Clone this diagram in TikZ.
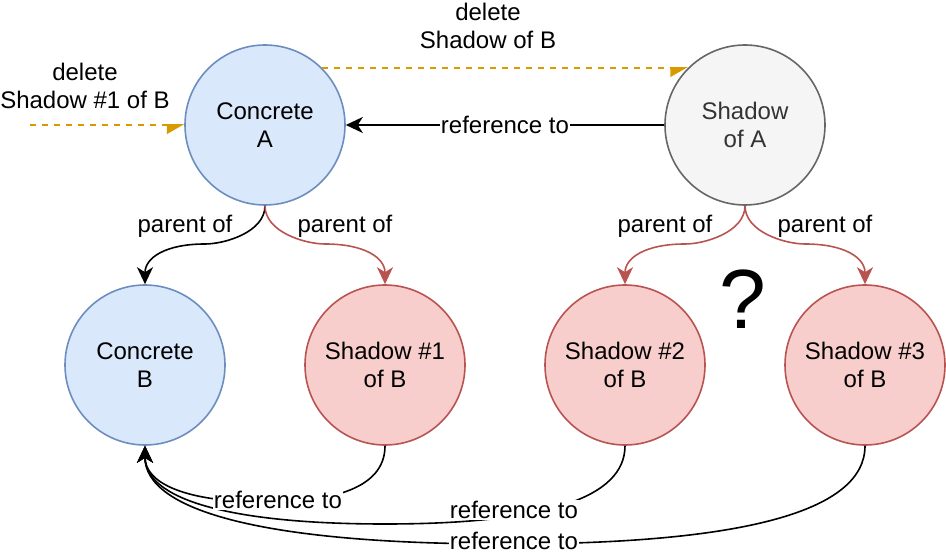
\documentclass[tikz,border=0pt]{standalone}
\usepackage{fontspec}
\setmainfont{Liberation Sans}
\usetikzlibrary{arrows.meta}

\definecolor{concfill}{HTML}{DAE8FC}
\definecolor{concline}{HTML}{6C8EBF}
\definecolor{shadfill}{HTML}{F8CECC}
\definecolor{shadline}{HTML}{B85450}
\definecolor{greyfill}{HTML}{F5F5F5}
\definecolor{greyline}{HTML}{666666}
\definecolor{greytext}{HTML}{333333}
\definecolor{delcol}{HTML}{D79B00}

\tikzset{
  concrete/.style={circle,draw=concline,fill=concfill,line width=1.6pt,minimum size=160pt,inner sep=0pt,align=center},
  shadowB/.style={circle,draw=shadline,fill=shadfill,line width=1.6pt,minimum size=160pt,inner sep=0pt,align=center},
  shadowA/.style={circle,draw=greyline,fill=greyfill,text=greytext,line width=1.6pt,minimum size=160pt,inner sep=0pt,align=center},
  lbl/.style={fill=white,inner sep=1pt},
  reftip/.style={-{Stealth[length=17pt,width=16pt,inset=5pt]}},
  refline/.style={line width=1.6pt,reftip},
  parline/.style={line width=1.6pt,reftip},
  delline/.style={delcol,line width=1.6pt,dash pattern=on 6pt off 6pt,-{Triangle[harpoon,swap,length=16pt,width=18pt]}}
}

\begin{document}
\begin{tikzpicture}[x=1pt,y=-1pt,font=\fontsize{24}{28}\selectfont]
\useasboundingbox (0,0) rectangle (946,556);
% circles
\node[concrete] (cA) at (265,125) {Concrete\\A};
\node[shadowA] (sA) at (745,125) {Shadow\\of A};
\node[concrete] (cB) at (145,365) {Concrete\\B};
\node[shadowB] (s1) at (385,365) {Shadow \#1\\of B};
\node[shadowB] (s2) at (625,365) {Shadow \#2\\of B};
\node[shadowB] (s3) at (865,365) {Shadow \#3\\of B};
\node (qm) at (743,299) {\fontsize{84}{84}\selectfont ?};
% delete arrows
\coordinate (dstart) at (30,125);
\draw[delline] (dstart) -- (cA);
\node[align=center] (del1) at (85,86) {delete\\Shadow \#1 of B};
\draw[delline] (cA.45) -- (sA.135);
\node[align=center] (del2) at (488,26) {delete\\Shadow of B};
% reference to
\draw[refline] (sA) -- node[lbl] (refA) {reference to} (cA);
% parent of
\draw[parline] (cA.south) .. controls (265,232) and (225,244) .. (205,244)
  .. controls (165,244) and (145,258) .. (cB.north);
\draw[parline,shadline] (cA.south) .. controls (265,232) and (305,244) .. (325,244)
  .. controls (365,244) and (385,258) .. (s1.north);
\draw[parline,shadline] (sA.south) .. controls (745,232) and (705,244) .. (685,244)
  .. controls (645,244) and (625,258) .. (s2.north);
\draw[parline,shadline] (sA.south) .. controls (745,232) and (785,244) .. (805,244)
  .. controls (845,244) and (865,258) .. (s3.north);
\node (par1) at (185,226) {parent of};
\node (par2) at (345,226) {parent of};
\node (par3) at (665,226) {parent of};
\node (par4) at (825,226) {parent of};
% references back to B
\draw[refline] (s1.south) .. controls (385,483) and (345,502) .. (265,502)
  .. controls (185,502) and (145,483) .. (cB.south);
\draw[refline] (s2.south) .. controls (625,498) and (545,524) .. (385,524)
  .. controls (225,524) and (145,498) .. (cB.south);
\draw[refline] (s3.south) .. controls (865,511) and (745,544) .. (505,544)
  .. controls (265,544) and (145,511) .. (cB.south);
\node[lbl] (ref1) at (278,500) {reference to};
\node[lbl] (ref2) at (514,510) {reference to};
\node[lbl] (ref3) at (514,541) {reference to};
\end{tikzpicture}
\end{document}
